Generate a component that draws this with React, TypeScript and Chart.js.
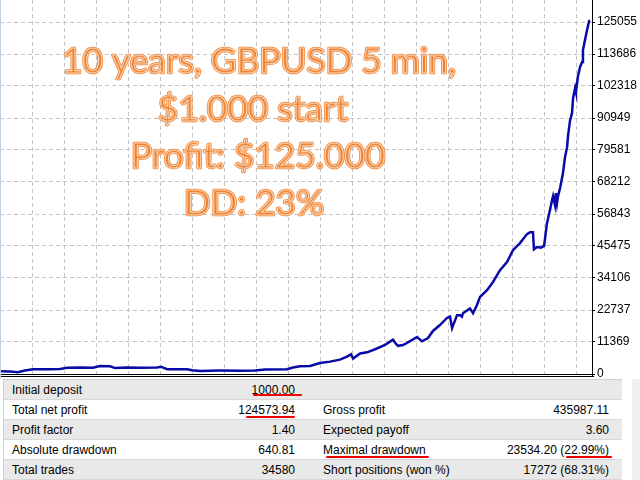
import React, { useEffect, useRef } from "react";
import { Chart, registerables } from "chart.js";

Chart.register(...registerables);

// Balance curve: trade number -> account balance
const tradeNumbers = [
  0, 590, 1050, 1460, 1930, 2930, 3520, 3930, 4690, 5450, 5860, 6450, 6740, 7440, 8200, 9200, 9430, 9790,
  10960, 11250, 11720, 12310, 12890, 14060, 14940, 15530, 16820, 17170, 17580, 18170, 18750, 19340, 19920,
  20330, 20570, 20690, 21100, 21510, 21980, 22560, 22850, 23030, 23210, 23320, 23620, 24030, 24440, 24730,
  25080, 25370, 25780, 26190, 26370, 26490, 26780, 26960, 27070, 27130, 27540, 27720, 27950, 28130, 28540,
  28890, 29300, 29710, 30060, 30470, 30880, 31060, 31230, 31290, 31470, 31700, 31880, 31940, 32050, 32230,
  32350, 32410, 32520, 32580, 32640, 32700, 32820, 32990, 33110, 33230, 33290, 33400, 33520, 33580, 33700,
  33750, 33810, 33870, 33990, 34110, 34160, 34280, 34400, 34520, 34580,
];
const balance = [
  1000, 900, 650, 1250, 1650, 1700, 1750, 2250, 2350, 2250, 2800, 2750, 2100, 2300, 2250, 2350, 2600, 1700,
  1650, 1300, 1050, 1150, 1200, 1150, 1250, 1600, 1700, 2300, 2750, 2850, 3900, 4400, 5100,
  6150, 7000, 5500, 7300, 7700, 8800, 10300, 11500, 12200, 10700, 10000, 10300, 11700, 13150, 11600,
  12800, 15300, 17400, 19900, 20400, 16300, 20900, 20900, 20400, 21600, 23300, 21600, 24500, 27400, 29800,
  32700, 36900, 39800, 44000, 46500, 49700, 50400, 50400, 44300, 45100, 44900, 45500, 48200, 53500, 58300,
  61800, 63200, 60000, 64300, 60700, 63200, 66100, 71400, 77100, 80600, 84900, 89900, 92700, 98000, 101600,
  100200, 103000, 105900, 109100, 110800, 115100, 118700, 122200, 125400, 125574,
];

const yTickValues = [0, 11369, 22737, 34106, 45475, 56843, 68212, 79581, 90949, 102318, 113686, 125055];
const yTickLabels = ["0", "11369", "22737", "34106", "45475", "56843", "68212", "79581", "90949", "102318", "113686", "125055"];

const overlayLines = ["10 years, GBPUSD 5 min,", "$1.000 start", "Profit: $125.000", "DD: 23%"];

const leftLabels = ["Initial deposit", "Total net profit", "Profit factor", "Absolute drawdown", "Total trades"];
const leftValues = ["1000.00", "124573.94", "1.40", "640.81", "34580"];
const rightLabels = ["", "Gross profit", "Expected payoff", "Maximal drawdown", "Short positions (won %)"];
const rightValues = ["", "435987.11", "3.60", "23534.20 (22.99%)", "17272 (68.31%)"];

const X_MAX = 34690;
const X_GRID_STEP = 1875.2;
const Y_MAX = 132871;

const TEXT_CENTERS = [259, 253, 258, 254];
const TEXT_BASELINES = [73, 121, 168, 215];

const GRID_COLOR = "#c4c4c4";
const DASH_ON = 4;
const DASH_OFF = 3;

// dashed grid lines at the positions of the library's own ticks
const dashedGridPlugin = {
  id: "dashedGrid",
  beforeDatasetsDraw(chart: any) {
    const { ctx, chartArea, scales } = chart;
    const { left, right, top, bottom } = chartArea;
    ctx.save();
    ctx.strokeStyle = GRID_COLOR;
    ctx.lineWidth = 1;
    ctx.beginPath();
    scales.y.ticks.forEach((tk: any) => {
      if (tk.value === 0) return;
      const py = Math.floor(scales.y.getPixelForValue(tk.value)) + 0.5;
      for (let x = left; x < right; x += DASH_ON + DASH_OFF) {
        ctx.moveTo(x, py);
        ctx.lineTo(Math.min(x + DASH_ON, right), py);
      }
    });
    scales.x.ticks.forEach((tk: any) => {
      const px = Math.floor(scales.x.getPixelForValue(tk.value)) + 0.5;
      if (px >= right) return;
      for (let y = top; y < bottom + 4; y += DASH_ON + DASH_OFF) {
        ctx.moveTo(px, y);
        ctx.lineTo(px, Math.min(y + DASH_ON, bottom + 5));
      }
    });
    ctx.stroke();
    ctx.restore();
  },
};

const overlayPlugin = {
  id: "overlayDeco",
  afterDraw(chart: any) {
    const { ctx, chartArea } = chart;
    const b = chartArea.bottom;
    const r = chartArea.right;
    const t = chartArea.top;
    ctx.save();
    ctx.fillStyle = "#fff";
    ctx.fillRect(0, b + 1, r, 1);
    ctx.strokeStyle = "#000";
    ctx.lineWidth = 1;
    ctx.beginPath();
    ctx.moveTo(0, b + 0.5);
    ctx.lineTo(r + 2, b + 0.5);
    ctx.moveTo(0, b + 2.5);
    ctx.lineTo(r + 2, b + 2.5);
    ctx.moveTo(r + 0.5, b);
    ctx.lineTo(r + 0.5, b + 3);
    ctx.stroke();

    ctx.font = "100px Lato";
    const w = ctx.measureText(overlayLines[0]).width;
    const size = (100 * 394) / w;
    ctx.font = `${size}px Lato`;
    ctx.textAlign = "center";
    ctx.textBaseline = "alphabetic";
    ctx.lineJoin = "round";
    overlayLines.forEach((line, i) => {
      const x = TEXT_CENTERS[i];
      const y = t + TEXT_BASELINES[i];
      ctx.strokeStyle = "#ee8434";
      ctx.lineWidth = 2.6;
      ctx.strokeText(line, x, y);
      ctx.fillStyle = "#ee8434";
      ctx.fillText(line, x, y);
      ctx.strokeStyle = "#fbd3b4";
      ctx.lineWidth = 1.1;
      ctx.strokeText(line, x, y);
    });
    ctx.restore();
  },
};

export default function App() {
  const canvasRef = useRef<HTMLCanvasElement | null>(null);

  useEffect(() => {
    document.body.style.margin = "0";
    const canvas = canvasRef.current;
    if (!canvas) return;
    const xGrid = Array.from({ length: 18 }, (_, i) => (i + 1) * X_GRID_STEP);
    const chart = new Chart(canvas, {
      type: "line",
      data: {
        datasets: [
          {
            data: tradeNumbers.map((t, i) => ({ x: t, y: balance[i] })),
            borderColor: "#0a0aa6",
            borderWidth: 2.5,
            pointRadius: 0,
            tension: 0,
            fill: false,
          },
        ],
      },
      options: {
        responsive: false,
        animation: false,
        layout: { padding: { top: 12, bottom: 8, left: 0, right: 0 } },
        plugins: { legend: { display: false }, tooltip: { enabled: false } },
        scales: {
          x: {
            type: "linear",
            min: 0,
            max: X_MAX,
            afterBuildTicks: (s: any) => {
              s.ticks = xGrid.map((v) => ({ value: v }));
            },
            afterFit: (s: any) => {
              s.height = 4;
            },
            ticks: { display: false },
            grid: { display: false },
            border: { display: false },
          },
          y: {
            type: "linear",
            position: "right",
            min: 0,
            max: Y_MAX,
            afterBuildTicks: (s: any) => {
              s.ticks = yTickValues.map((v) => ({ value: v }));
            },
            afterFit: (s: any) => {
              s.width = 48;
            },
            ticks: {
              autoSkip: false,
              padding: 2,
              color: "#000",
              font: { family: "'Liberation Sans', Arial, sans-serif", size: 12 },
              callback: (_v: any, i: number) => yTickLabels[i],
            },
            grid: {
              drawOnChartArea: false,
              color: GRID_COLOR,
              tickColor: "#000",
              tickLength: 3,
              tickWidth: 1,
            },
            border: { display: true, color: "#000", width: 1 },
          },
        },
      } as any,
      plugins: [dashedGridPlugin, overlayPlugin],
    });
    return () => chart.destroy();
  }, []);

  const underline = (left: number, top: number, width: number) => (
    <div
      style={{
        position: "absolute",
        left,
        top,
        width,
        height: 2,
        background: "#ee0000",
        borderRadius: 1,
      }}
    />
  );

  return (
    <div
      style={{
        position: "fixed",
        left: 0,
        top: 0,
        width: 640,
        height: 480,
        overflow: "hidden",
        background: "#fff",
        fontFamily: "'Liberation Sans', Arial, sans-serif",
        fontSize: 12,
        color: "#000",
      }}
    >
      <canvas
        ref={canvasRef}
        width={640}
        height={398}
        style={{ position: "absolute", left: 0, top: -12, width: 640, height: 398 }}
      />
      <div style={{ position: "absolute", left: 0, top: 0, width: 1, height: 379, background: "#c3d0e2" }} />
      <div style={{ position: "absolute", left: 632, top: 379, width: 8, height: 101, background: "#f0f0f0" }} />
      <div
        style={{
          position: "absolute",
          left: 3,
          top: 379,
          width: 618,
          height: 100,
          borderLeft: "1px solid #cfcfcf",
          borderTop: "1px solid #cfcfcf",
        }}
      >
        {leftLabels.map((lab, i) => (
          <div
            key={i}
            style={{
              position: "relative",
              height: 19,
              lineHeight: "20px",
              borderBottom: "1px solid #d8d8d8",
              background: i % 2 === 0 ? "#e9e9e9" : "#fff",
              whiteSpace: "nowrap",
            }}
          >
            <span style={{ position: "absolute", left: 8 }}>{lab}</span>
            <span style={{ position: "absolute", right: 327 }}>{leftValues[i]}</span>
            <span style={{ position: "absolute", left: 319 }}>{rightLabels[i]}</span>
            <span style={{ position: "absolute", right: 13 }}>{rightValues[i]}</span>
          </div>
        ))}
      </div>
      {underline(253, 394, 49)}
      {underline(246, 416, 49)}
      {underline(326, 456, 103)}
      {underline(566, 456, 46)}
    </div>
  );
}
